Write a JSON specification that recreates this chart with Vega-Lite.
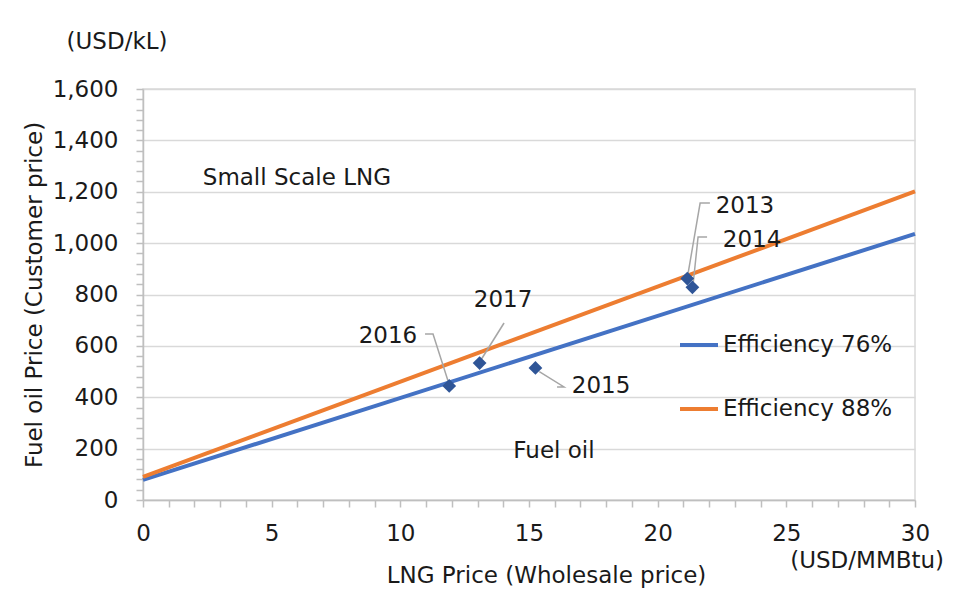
{
  "$schema": "https://vega.github.io/schema/vega-lite/v6.json",
  "width": 772,
  "height": 411,
  "autosize": {"type": "none"},
  "padding": {"left": 143, "top": 89, "right": 45, "bottom": 94},
  "background": "white",
  "config": {
    "font": "DejaVu Sans",
    "view": {"stroke": "#d9d9d9", "strokeWidth": 1.5},
    "axis": {
      "labelFont": "DejaVu Sans",
      "titleFont": "DejaVu Sans",
      "labelFontSize": 23,
      "titleFontSize": 23,
      "titleFontWeight": "normal",
      "labelColor": "#1a1a1a",
      "titleColor": "#1a1a1a",
      "domainColor": "#bfbfbf",
      "domainWidth": 1.5,
      "tickColor": "#bfbfbf",
      "tickWidth": 1.5,
      "labelOverlap": false,
      "labelFlush": false
    }
  },
  "datasets": {
    "lines": [
      {"series": "Efficiency 76%", "lng": 0, "oil": 78},
      {"series": "Efficiency 76%", "lng": 30, "oil": 1036},
      {"series": "Efficiency 88%", "lng": 0, "oil": 90},
      {"series": "Efficiency 88%", "lng": 30, "oil": 1201}
    ],
    "points": [
      {"year": "2013", "lng": 21.15, "oil": 862},
      {"year": "2014", "lng": 21.35, "oil": 828},
      {"year": "2015", "lng": 15.25, "oil": 514},
      {"year": "2016", "lng": 11.9, "oil": 444},
      {"year": "2017", "lng": 13.08, "oil": 533}
    ],
    "leaders": [
      {"year": "2013", "seq": 1, "lng": 22.03, "oil": 1156},
      {"year": "2013", "seq": 2, "lng": 21.65, "oil": 1156},
      {"year": "2013", "seq": 3, "lng": 21.17, "oil": 875},
      {"year": "2014", "seq": 1, "lng": 21.92, "oil": 1024},
      {"year": "2014", "seq": 2, "lng": 21.57, "oil": 1024},
      {"year": "2014", "seq": 3, "lng": 21.38, "oil": 843},
      {"year": "2017", "seq": 1, "lng": 14.03, "oil": 689},
      {"year": "2017", "seq": 2, "lng": 13.15, "oil": 548},
      {"year": "2016", "seq": 1, "lng": 10.96, "oil": 646},
      {"year": "2016", "seq": 2, "lng": 11.27, "oil": 646},
      {"year": "2016", "seq": 3, "lng": 11.87, "oil": 458},
      {"year": "2015", "seq": 1, "lng": 16.09, "oil": 440},
      {"year": "2015", "seq": 2, "lng": 16.36, "oil": 440},
      {"year": "2015", "seq": 3, "lng": 15.4, "oil": 500}
    ],
    "labels": [
      {"label": "2013", "lng": 23.39, "oil": 1145},
      {"label": "2014", "lng": 23.67, "oil": 1012},
      {"label": "2017", "lng": 13.99, "oil": 779},
      {"label": "2016", "lng": 9.52, "oil": 638},
      {"label": "2015", "lng": 17.8, "oil": 444},
      {"label": "Small Scale LNG", "lng": 5.98, "oil": 1254},
      {"label": "Fuel oil", "lng": 15.97, "oil": 191},
      {"label": "(USD/MMBtu)", "lng": 28.14, "oil": -237},
      {"label": "(USD/kL)", "lng": -1.01, "oil": 1783}
    ]
  },
  "encoding": {
    "x": {
      "field": "lng",
      "type": "quantitative",
      "scale": {"domain": [0, 30], "nice": false},
      "axis": {
        "values": [0,1,2,3,4,5,6,7,8,9,10,11,12,13,14,15,16,17,18,19,20,21,22,23,24,25,26,27,28,29,30],
        "labelExpr": "datum.value % 5 === 0 ? format(datum.value, 'd') : ''",
        "grid": false,
        "tickSize": 7,
        "labelPadding": 15,
        "title": "LNG Price (Wholesale price)",
        "titleX": 403,
        "titleY": 75,
        "titleBaseline": "middle",
        "titleAlign": "center"
      }
    },
    "y": {
      "field": "oil",
      "type": "quantitative",
      "scale": {"domain": [0, 1600], "nice": false},
      "axis": {
        "values": [0,40,80,120,160,200,240,280,320,360,400,440,480,520,560,600,640,680,720,760,800,840,880,920,960,1000,1040,1080,1120,1160,1200,1240,1280,1320,1360,1400,1440,1480,1520,1560,1600],
        "labelExpr": "datum.value % 200 === 0 ? format(datum.value, ',') : ''",
        "grid": true,
        "gridColor": "#d9d9d9",
        "gridWidth": 1.5,
        "gridOpacity": {"condition": {"test": "datum.value % 200 === 0", "value": 1}, "value": 0},
        "tickSize": 7,
        "labelPadding": 18,
        "title": "Fuel oil Price (Customer price)",
        "titlePadding": 6
      }
    }
  },
  "layer": [
    {
      "data": {"name": "lines"},
      "mark": {"type": "line", "strokeWidth": 4},
      "encoding": {
        "color": {
          "field": "series",
          "type": "nominal",
          "scale": {"domain": ["Efficiency 76%", "Efficiency 88%"], "range": ["#4472C4", "#ED7D31"]},
          "legend": {
            "orient": "none",
            "legendX": 535,
            "legendY": 235,
            "title": null,
            "symbolType": "stroke",
            "symbolSize": 1444,
            "symbolStrokeWidth": 4,
            "labelFontSize": 23,
            "labelFont": "DejaVu Sans",
            "labelColor": "#1a1a1a",
            "labelLimit": 400,
            "labelOffset": 3,
            "rowPadding": 31,
            "padding": 0
          }
        }
      }
    },
    {
      "data": {"name": "leaders"},
      "mark": {"type": "line", "color": "#a6a6a6", "strokeWidth": 1.5},
      "encoding": {
        "detail": {"field": "year"},
        "order": {"field": "seq", "type": "quantitative"}
      }
    },
    {
      "data": {"name": "points"},
      "mark": {"type": "point", "shape": "diamond", "filled": true, "size": 190, "color": "#2F5597", "opacity": 1},
      "encoding": {}
    },
    {
      "data": {"name": "labels"},
      "mark": {"type": "text", "fontSize": 23, "font": "DejaVu Sans", "color": "#1a1a1a", "align": "center", "baseline": "middle"},
      "encoding": {
        "text": {"field": "label"}
      }
    }
  ]
}
